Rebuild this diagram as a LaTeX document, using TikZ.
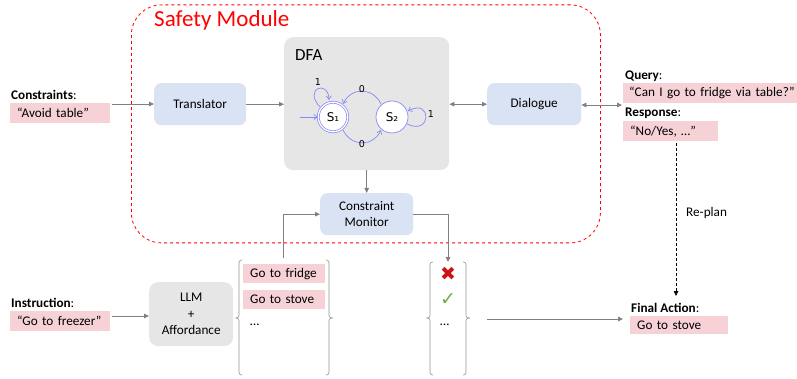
\documentclass[tikz,border=0pt]{standalone}
\usepackage{fontspec}
\setmainfont{Carlito}
\newfontfamily\dejavu{DejaVu Sans}
\usetikzlibrary{arrows.meta,calc}
\definecolor{pinkbg}{RGB}{246,210,214}
\definecolor{bluebg}{RGB}{218,227,243}
\definecolor{graybg}{RGB}{230,230,230}
\definecolor{arrowgray}{RGB}{128,128,128}
\definecolor{dfablue}{RGB}{135,135,245}
\definecolor{xred}{RGB}{204,20,20}
\definecolor{chkgreen}{RGB}{112,173,71}
\definecolor{safered}{RGB}{255,0,0}
\begin{document}
\begin{tikzpicture}[x=1pt,y=-1pt,
  font=\fontsize{13.2}{16.5}\selectfont,
  bluebox/.style={fill=bluebg, rounded corners=7pt, align=center, inner sep=0pt},
  graybox/.style={fill=graybg, rounded corners=9pt, align=center, inner sep=0pt},
  pinkbox/.style={fill=pinkbg, anchor=north west, minimum height=20pt, inner xsep=7pt, inner ysep=0pt, align=left},
  lbl/.style={anchor=west, inner sep=0pt},
  conn/.style={draw=arrowgray, line width=0.8pt, -{Triangle[length=5pt,width=4.5pt]}},
  dconn/.style={draw=arrowgray, line width=0.8pt, {Triangle[length=5pt,width=4.5pt]}-{Triangle[length=5pt,width=4.5pt]}},
  bracepath/.style={draw=arrowgray!85, line width=0.6pt, rounded corners=2.5pt},
  state/.style={circle, draw=dfablue, fill=white, line width=0.7pt, inner sep=0pt, font=\dejavu\fontsize{12}{14}\selectfont},
  dfaedge/.style={draw=dfablue, line width=0.7pt, -{Straight Barb[length=3.5pt,width=5pt]}},
  elbl/.style={font=\dejavu\fontsize{9.5}{11}\selectfont, inner sep=0pt}
]
\useasboundingbox (0,0) rectangle (797,379);

% Safety module frame
\node[draw=safered, dashed, line width=0.8pt, rounded corners=30pt, minimum width=469pt, minimum height=238pt, anchor=north west, inner sep=0pt] (sm) at (131,4.5) {};
\node[lbl, text=safered, font=\fontsize{23}{26}\selectfont] (smtitle) at (154,20) {Safety Module};

% DFA box
\node[graybox, minimum width=165pt, minimum height=133pt, anchor=north west] (dfa) at (284,37) {};
\node[lbl, font=\fontsize{17}{20}\selectfont] (dfat) at (295,55) {DFA};

% DFA states
\node[state, minimum size=29.5pt, double=white, double distance=1.3pt] (s1) at (333,117) {S₁};
\node[state, minimum size=32pt] (s2) at (392,117) {S₂};
\coordinate (init) at (300,117);
\draw[dfaedge] (init) -- (s1.west);
\draw[dfaedge] (381,104) .. controls (373,87) and (351,87) .. (343,104);
\node[elbl] (l0a) at (362,89) {0};
\draw[dfaedge] (343,130) .. controls (351,147) and (373,147) .. (381,130);
\node[elbl] (l0b) at (362,144) {0};
\draw[dfaedge] (320,107) .. controls (303,89) and (328,79) .. (329,100);
\node[elbl] (l1a) at (318,82) {1};
\draw[dfaedge] (407,124) .. controls (432,136) and (432,98) .. (408,111);
\node[elbl] (l1b) at (431,114) {1};

% Blue boxes
\node[bluebox, minimum width=92pt, minimum height=42pt, anchor=north west] (tr) at (154,83) {Translator};
\node[bluebox, minimum width=94pt, minimum height=42pt, anchor=north west] (dl) at (487,83) {Dialogue};
\node[bluebox, minimum width=93pt, minimum height=42pt, anchor=north west] (cm) at (320,193) {Constraint\\Monitor};

% LLM box
\node[graybox, minimum width=84pt, minimum height=64pt, anchor=north west] (llm) at (149,282) {LLM\\+\\Affordance};

% Constraints
\node[lbl] (clbl) at (11,95) {\textbf{Constraints}:};
\node[pinkbox, text width=86pt] (cbox) at (10,103) {\mbox{“Avoid table”}};

% Instruction
\node[lbl] (ilbl) at (11,303) {\textbf{Instruction}:};
\node[pinkbox, text width=86pt] (ibox) at (10,311) {\mbox{“Go to freezer”}};

% Query / Response
\node[lbl] (qlbl) at (625,76) {\textbf{Query}:};
\node[pinkbox, text width=162pt, inner xsep=6pt] (qbox) at (623,83) {\mbox{“Can I go to fridge via table?”}};
\node[lbl] (rlbl) at (625,113) {\textbf{Response}:};
\node[pinkbox, text width=81pt] (rbox) at (623,121) {\mbox{“No/Yes, …”}};

% Final action
\node[lbl] (flbl) at (631,308) {\textbf{Final Action}:};
\node[pinkbox, text width=84pt, minimum height=18pt] (fbox) at (630,316) {\mbox{Go to stove}};

% Candidate list
\node[pinkbox, text width=68pt, minimum height=19pt] (g1) at (243,264) {\mbox{Go to fridge}};
\node[pinkbox, text width=68pt, minimum height=19pt] (g2) at (243,290) {\mbox{Go to stove}};
\node[lbl] (gdots) at (250,325) {…};

% Check list
\node[inner sep=0pt, text=xred, font=\dejavu\fontsize{19}{19}\selectfont] (xm) at (448,274) {✖};
\node[inner sep=0pt, text=chkgreen, font=\dejavu\fontsize{19}{19}\selectfont] (ck) at (448,300) {✓};
\node[lbl] (cdots) at (440,325) {…};

% Braces
\draw[bracepath] (242,260) -- (239,260) -- (239,318) -- (235.5,318);
\draw[bracepath] (235.5,318) -- (239,318) -- (239,375) -- (242,375);
\draw[bracepath] (326,260) -- (329,260) -- (329,318) -- (332.5,318);
\draw[bracepath] (332.5,318) -- (329,318) -- (329,375) -- (326,375);
\draw[bracepath] (433,262) -- (430,262) -- (430,318) -- (426.5,318);
\draw[bracepath] (426.5,318) -- (430,318) -- (430,375) -- (433,375);
\draw[bracepath] (463,262) -- (466,262) -- (466,318) -- (469.5,318);
\draw[bracepath] (469.5,318) -- (466,318) -- (466,375) -- (463,375);

% Connectors
\coordinate (cout) at (112,104);
\draw[conn] (cout) -- (cout -| tr.west);
\draw[conn] (tr.east) -- (tr.east -| dfa.west);
\draw[dconn] (dfa.east |- dl.west) -- (dl.west);
\coordinate (qin) at (622,105);
\draw[dconn] (dl.east |- qin) -- (qin);
\draw[conn] (dfa.south) -- (cm.north);
\coordinate (listtop) at (283,258);
\draw[conn] (listtop) |- (cm.west);
\coordinate (chktop) at (448,262);
\draw[conn] (cm.east) -| (chktop);
\coordinate (iout) at (112,316);
\draw[conn] (iout) -- (iout -| llm.west);
\coordinate (chkout) at (487,319);
\coordinate (fin) at (623,319);
\draw[conn] (chkout) -- (fin);
\coordinate (rp1) at (676,143);
\coordinate (rp2) at (676,296);
\draw[draw=black, dashed, line width=0.8pt, dash pattern=on 3pt off 2pt, -{Triangle[length=5pt,width=4.5pt]}] (rp1) -- (rp2);
\node[lbl] (rplbl) at (686,213) {Re-plan};
\end{tikzpicture}
\end{document}
